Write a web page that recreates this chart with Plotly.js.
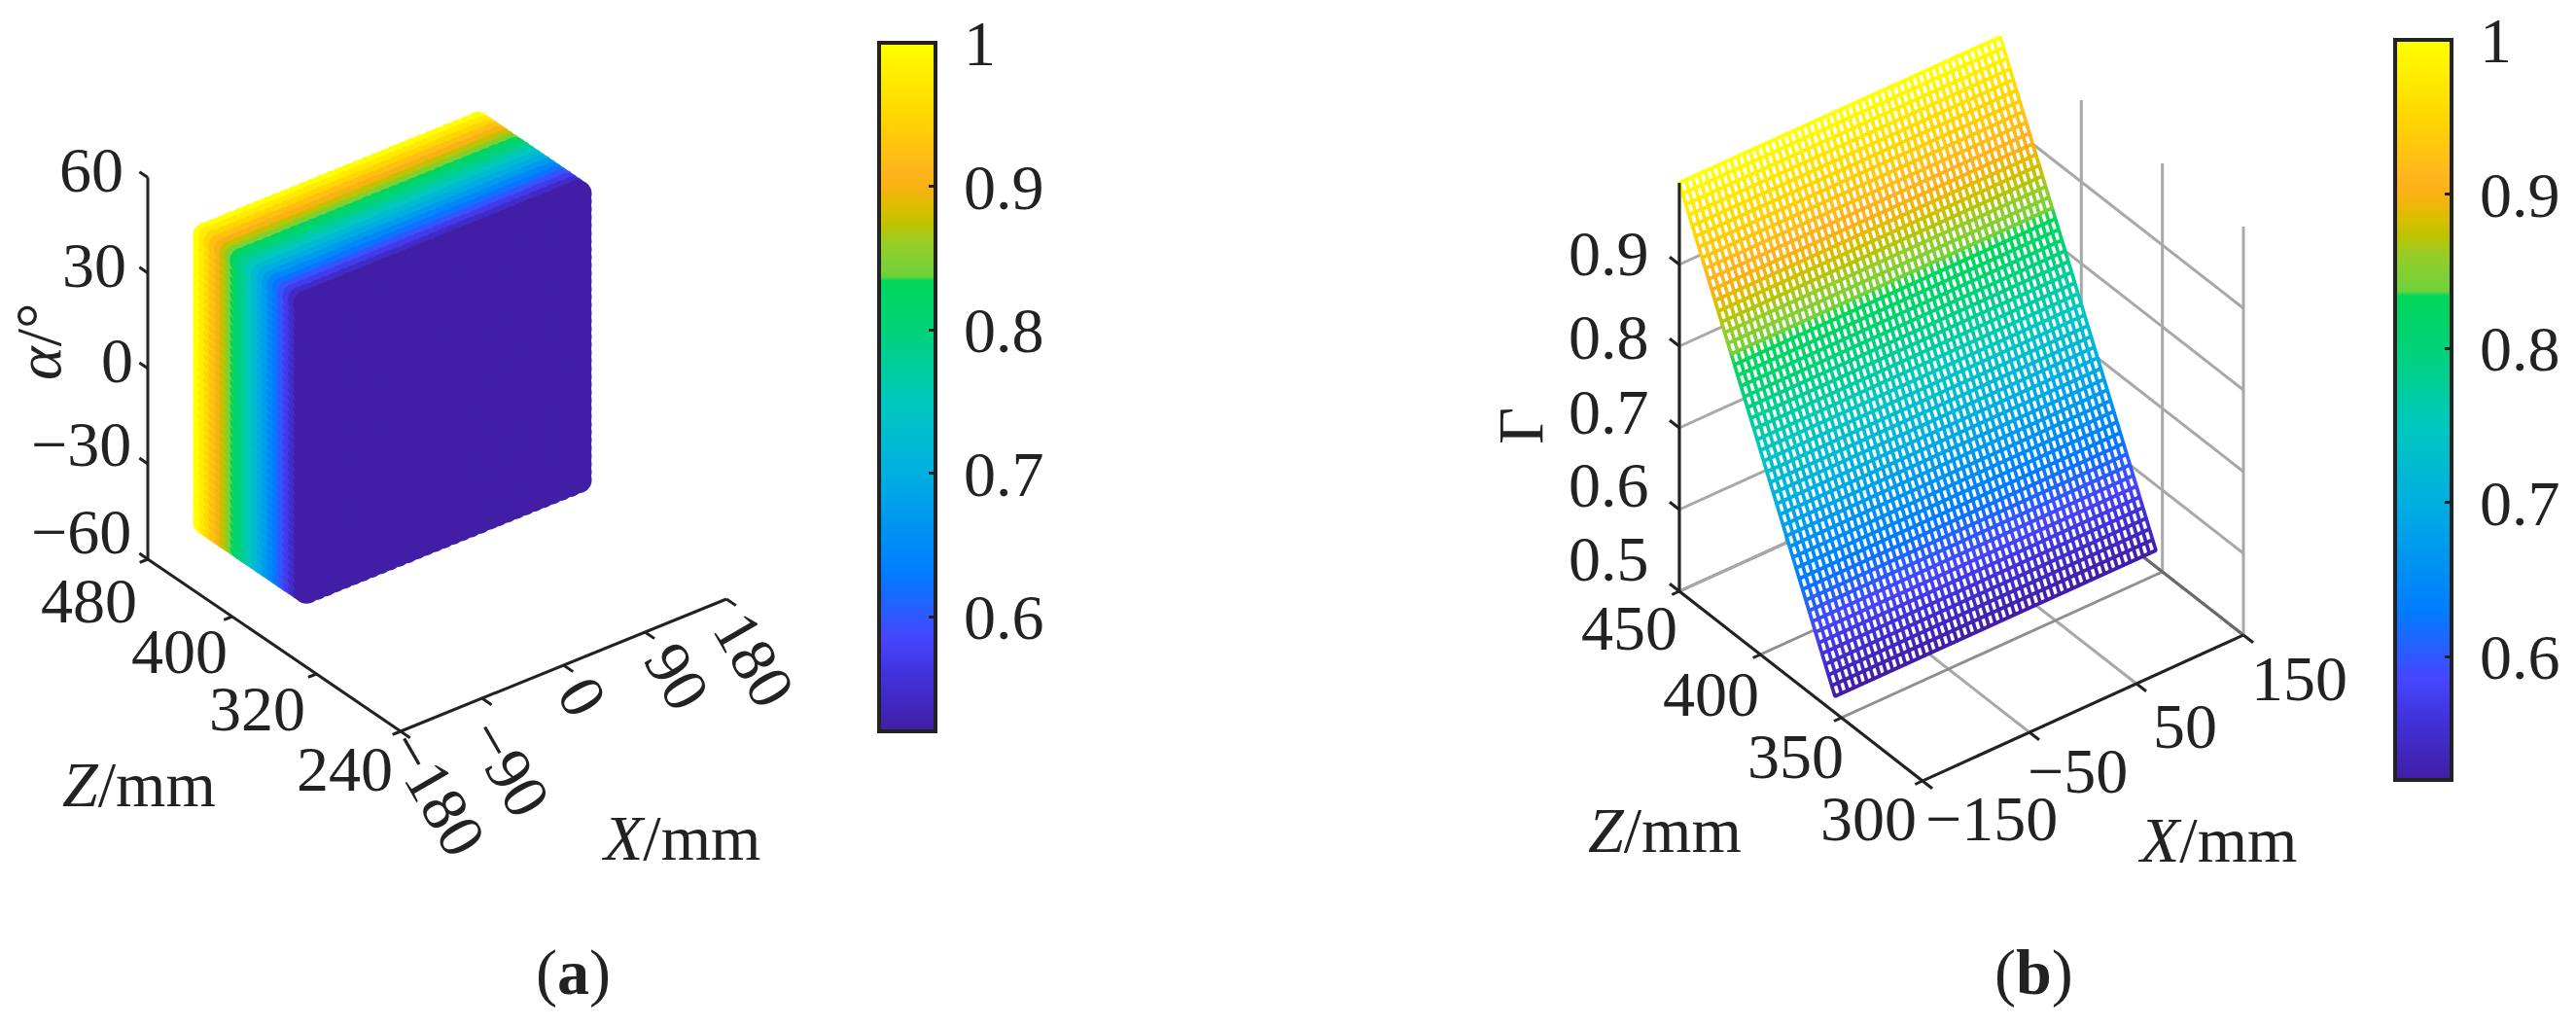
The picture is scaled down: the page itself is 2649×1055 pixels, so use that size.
<!DOCTYPE html>
<html><head><meta charset="utf-8">
<script src="https://cdn.plot.ly/plotly-3.0.1.min.js"></script>
<style>html,body{margin:0;padding:0;background:#fff}</style></head>
<body><div id="g" style="width:2649px;height:1055px"></div>
<script>
// ---- panel (a) values ----
const aX = [-150,-140,-130,-120,-110,-100,-90,-80,-70,-60,-50,-40,-30,-20,-10,0,10,20,30,40,50,60,70,80,90,100,110,120,130,140,150];
const aAlpha = [-45,-42.5,-40,-37.5,-35,-32.5,-30,-27.5,-25,-22.5,-20,-17.5,-15,-12.5,-10,-7.5,-5,-2.5,0,2.5,5,7.5,10,12.5,15,17.5,20,22.5,25,27.5,30,32.5,35,37.5,40,42.5,45];
const aZ = [355,360,365,370,375,380,385,390,395,400,405,410,415,420,425,430,435,440,445,450];
const aGamma = [0.52,0.545,0.57,0.596,0.621,0.646,0.672,0.697,0.722,0.747,0.773,0.798,0.823,0.848,0.874,0.899,0.924,0.949,0.975,1.0];
const aXTicks = [-180,-90,0,90,180], aXText = ['−180','−90','0','90','180'];
const aZTicks = [240,320,400,480], aZText = ['240','320','400','480'];
const aATicks = [-60,-30,0,30,60], aAText = ['−60','−30','0','30','60'];
// ---- panel (b) values ----
const bX = [-150,-144,-138,-132,-126,-120,-114,-108,-102,-96,-90,-84,-78,-72,-66,-60,-54,-48,-42,-36,-30,-24,-18,-12,-6,0,6,12,18,24,30,36,42,48,54,60,66,72,78,84,90,96,102,108,114,120,126,132,138,144,150];
const bZ = [354,356,358,360,362,364,366,368,370,372,374,376,378,380,382,384,386,388,390,392,394,396,398,400,402,404,406,408,410,412,414,416,418,420,422,424,426,428,430,432,434,436,438,440,442,444,446,448,450];
const bGamma = [0.52,0.53,0.54,0.55,0.56,0.57,0.58,0.59,0.6,0.61,0.62,0.63,0.64,0.65,0.66,0.67,0.68,0.69,0.7,0.71,0.72,0.73,0.74,0.75,0.76,0.77,0.78,0.79,0.8,0.81,0.82,0.83,0.84,0.85,0.86,0.87,0.88,0.89,0.9,0.91,0.92,0.93,0.94,0.95,0.96,0.97,0.98,0.99,1.0];
const bXTicks = [-150,-50,50,150], bXText = ['−150','−50','50','150'];
const bZTicks = [300,350,400,450], bZText = ['300','350','400','450'];
const bGTicks = [0.5,0.6,0.7,0.8,0.9], bGText = ['0.5','0.6','0.7','0.8','0.9'];
const bGTop = 1;
// ---- colour bar ----
const cMin = 0.52, cMax = 1;
const cbTicks = [0.6,0.7,0.8,0.9,1], cbText = ['\u20090.6','\u20090.7','\u20090.8','\u20090.9','\u20091'];
const cStops = [[0.52,[65,30,165]],[0.56,[65,50,220]],[0.585,[70,70,255]],[0.63,[0,125,255]],[0.7,[0,175,225]],[0.75,[0,200,190]],[0.8,[0,210,120]],[0.834,[0,215,90]],[0.837,[110,210,60]],[0.86,[150,205,40]],[0.873,[190,195,0]],[0.885,[220,190,0]],[0.9,[250,178,20]],[0.91,[255,180,30]],[0.95,[255,215,0]],[1,[255,255,0]]];

// ---- style / view ----
const W=2649,H=1055,FS=66,FF='"Liberation Serif","Times New Roman",serif',INK='#222',GRID='#a8a8a8',EDGE='#6a6a6a';
const rgb=c=>`rgb(${c.map(Math.round).join(',')})`;
const scale=cStops.map(s=>[(s[0]-cMin)/(cMax-cMin),rgb(s[1])]);
function colorAt(v){for(let i=1;i<cStops.length;i++){if(v<=cStops[i][0]){const a=cStops[i-1],b=cStops[i],t=(v-a[0])/(b[0]-a[0]);return rgb(a[1].map((q,k)=>q+(b[1][k]-q)*t));}}return rgb(cStops[cStops.length-1][1]);}
// orthographic view: screen position of the axes' corner and screen step per data unit
function view(o,lo,ux,uz,uv){return (x,z,v)=>[o[0]+ux[0]*(x-lo[0])+uz[0]*(z-lo[1]),o[1]+ux[1]*(x-lo[0])+uz[1]*(z-lo[1])+uv*(v-lo[2])];}
const pa=view([412,752],[-180,240,-60],[0.9306,-0.3778],[-1.0833,-0.7375],-3.27);
const pb=view([1977,803],[-150,300,0.5],[1.10,-0.5],[-1.667,-1.3],-840);

const traces=[];
function line(pts,color,width){const x=[],y=[];pts.forEach(p=>{x.push(p?p[0]:null);y.push(p?p[1]:null);});
  traces.push({type:'scatter',mode:'lines',x,y,hoverinfo:'skip',line:{color,width,simplify:false},connectgaps:false});}
const ann=[];
function label(p,dx,dy,text,angle,size){ann.push({xref:'x',yref:'y',x:p[0]+dx,y:p[1]+dy,text,textangle:angle||0,showarrow:false,xanchor:'center',yanchor:'middle',font:{family:FF,size:size||FS,color:INK}});}

function cb(xpx,top,bot){return {x:xpx/W,xanchor:'left',xpad:0,y:1-(top+bot)/2/H,yanchor:'middle',ypad:0,lenmode:'pixels',len:bot-top,thicknessmode:'pixels',thickness:58,
  outlinecolor:INK,outlinewidth:4,ticks:'inside',ticklen:9,tickwidth:3,tickcolor:INK,tickmode:'array',tickvals:cbTicks,ticktext:cbText,tickfont:{family:FF,size:FS,color:INK}};}

// ---- panel (a): axes ----
const aXlo=aXTicks[0],aXhi=aXTicks[aXTicks.length-1],aZlo=aZTicks[0],aZhi=aZTicks[aZTicks.length-1],aAlo=aATicks[0],aAhi=aATicks[aATicks.length-1];
line([pa(aXlo,aZlo,aAlo),pa(aXhi,aZlo,aAlo)],INK,3);
line([pa(aXlo,aZlo,aAlo),pa(aXlo,aZhi,aAlo)],INK,3);
line([pa(aXlo,aZhi,aAlo),pa(aXlo,aZhi,aAhi)],INK,3);
aXTicks.forEach(x=>line([pa(x,aZlo,aAlo),pa(x,aZlo-9,aAlo)],INK,3));
aZTicks.forEach(z=>line([pa(aXlo,z,aAlo),pa(aXlo-9,z,aAlo)],INK,3));
aATicks.forEach(v=>line([pa(aXlo,aZhi,v),pa(aXlo,aZhi+8,v)],INK,3));
const aXOff=[[37,63],[28,71],[20,32],[33,46],[28,62]];
aXTicks.forEach((x,i)=>label(pa(x,aZlo,aAlo),aXOff[i][0],aXOff[i][1],aXText[i],60));
const aZOff=[[-58,38],[-61,35],[-54,35],[-61,42]];
aZTicks.forEach((z,i)=>label(pa(aXlo,z,aAlo),aZOff[i][0],aZOff[i][1],aZText[i]));
const aAOff=[[-69,-29],[-69,-20],[-32,-8],[-55,-8],[-58,-8]];
aATicks.forEach((v,i)=>label(pa(aXlo,aZhi,v),aAOff[i][0],aAOff[i][1],aAText[i]));
// ---- panel (a): points on the outer shell, far ones first ----
const pts=[];
aZ.forEach((z,k)=>aX.forEach((x,i)=>aAlpha.forEach((v,j)=>{
  if(k===0||k===aZ.length-1||i===0||i===aX.length-1||j===0||j===aAlpha.length-1) pts.push({x,z,v,g:aGamma[k]});
})));
const near=p=>-0.45*p.x/450-0.635*p.z/271+0.627*p.v/120;
pts.sort((a,b)=>near(a)-near(b));
const sc=pts.map(p=>pa(p.x,p.z,p.v));
traces.push({type:'scatter',mode:'markers',x:sc.map(q=>q[0]),y:sc.map(q=>q[1]),hoverinfo:'skip',
  marker:{size:28,color:pts.map(p=>p.g),cmin:cMin,cmax:cMax,colorscale:scale,line:{width:0},opacity:1,colorbar:cb(904,44,752)}});

// ---- panel (b): walls and floor ----
const bXlo=bXTicks[0],bXhi=bXTicks[bXTicks.length-1],bZlo=bZTicks[0],bZhi=bZTicks[bZTicks.length-1],bGlo=bGTicks[0];
bXTicks.forEach(x=>{line([pb(x,bZlo,bGlo),pb(x,bZhi,bGlo)],x===bXhi?EDGE:GRID,3);line([pb(x,bZhi,bGlo),pb(x,bZhi,bGTop)],GRID,3);});
bZTicks.forEach(z=>{line([pb(bXlo,z,bGlo),pb(bXhi,z,bGlo)],z===bZhi?EDGE:'#8f8f8f',3);line([pb(bXhi,z,bGlo),pb(bXhi,z,bGTop)],GRID,3);});
bGTicks.forEach(g=>{line([pb(bXlo,bZhi,g),pb(bXhi,bZhi,g)],GRID,3);line([pb(bXhi,bZlo,g),pb(bXhi,bZhi,g)],g===bGlo?EDGE:GRID,3);});
// ---- panel (b): opaque sheet under the mesh, then the mesh ----
const n=bZ.length-1,m=bX.length-1;
const sheet=[pb(bX[0],bZ[0],bGamma[0]),pb(bX[m],bZ[0],bGamma[0]),pb(bX[m],bZ[n],bGamma[n]),pb(bX[0],bZ[n],bGamma[n]),pb(bX[0],bZ[0],bGamma[0])];
traces.push({type:'scatter',mode:'lines',x:sheet.map(q=>q[0]),y:sheet.map(q=>q[1]),fill:'toself',fillcolor:'#fff',line:{width:0},hoverinfo:'skip'});
for(let j=0;j<n;j++){const seg=[];bX.forEach(x=>{seg.push(pb(x,bZ[j],bGamma[j]),pb(x,bZ[j+1],bGamma[j+1]),null);});line(seg,colorAt((bGamma[j]+bGamma[j+1])/2),3.7);}
bZ.forEach((z,j)=>line(bX.map(x=>pb(x,z,bGamma[j])),colorAt(bGamma[j]),3.8));
const nodes=[];bZ.forEach((z,j)=>bX.forEach(x=>nodes.push({q:pb(x,z,bGamma[j]),g:bGamma[j]})));
traces.push({type:'scatter',mode:'markers',x:nodes.map(p=>p.q[0]),y:nodes.map(p=>p.q[1]),hoverinfo:'skip',
  marker:{size:3,color:nodes.map(p=>p.g),cmin:cMin,cmax:cMax,colorscale:scale,line:{width:0},colorbar:cb(2463,41,802)}});
// ---- panel (b): axes in front ----
line([pb(bXlo,bZlo,bGlo),pb(bXhi,bZlo,bGlo)],INK,3);
line([pb(bXlo,bZlo,bGlo),pb(bXlo,bZhi,bGlo)],INK,3);
line([pb(bXlo,bZhi,bGlo),pb(bXlo,bZhi,bGTop)],INK,3);
bXTicks.forEach(x=>line([pb(x,bZlo,bGlo),pb(x,bZlo-6,bGlo)],INK,3));
bZTicks.forEach(z=>line([pb(bXlo,z,bGlo),pb(bXlo-7,z,bGlo)],INK,3));
bGTicks.forEach(g=>line([pb(bXlo,bZhi,g),pb(bXlo,bZhi+6,g)],INK,3));
const bXOff=[[71,38],[49,39],[50,43],[57,44]];
bXTicks.forEach((x,i)=>label(pb(x,bZlo,bGlo),bXOff[i][0],bXOff[i][1],bXText[i]));
const bZOff=[[-56,38],[-47,39],[-51,40],[-51,37]];
bZTicks.forEach((z,i)=>label(pb(bXlo,z,bGlo),bZOff[i][0],bZOff[i][1],bZText[i]));
const bGOff=[-34,-26,-17,-10,-12];
bGTicks.forEach((g,i)=>label(pb(bXlo,bZhi,g),-72,bGOff[i],bGText[i]));

// ---- axis names and panel letters ----
label([39,352],0,0,'<i>α</i>/°',-90);
label([143,806],0,0,'<i>Z</i>/mm');
label([700,861],0,0,'<i>X</i>/mm');
label([589,1000],0,0,'(<b>a</b>)');
label([1563,438],0,0,'Γ',-90);
label([1712,853],0,0,'<i>Z</i>/mm');
label([2280,863],0,0,'<i>X</i>/mm');
label([2091,1000],0,0,'(<b>b</b>)');

const layout={width:W,height:H,margin:{l:0,r:0,t:0,b:0,autoexpand:false},paper_bgcolor:'#fff',plot_bgcolor:'#fff',showlegend:false,
 xaxis:{visible:false,range:[0,W],fixedrange:true},yaxis:{visible:false,range:[H,0],fixedrange:true},annotations:ann};
Plotly.newPlot('g',traces,layout,{staticPlot:true,displayModeBar:false});
</script></body></html>
